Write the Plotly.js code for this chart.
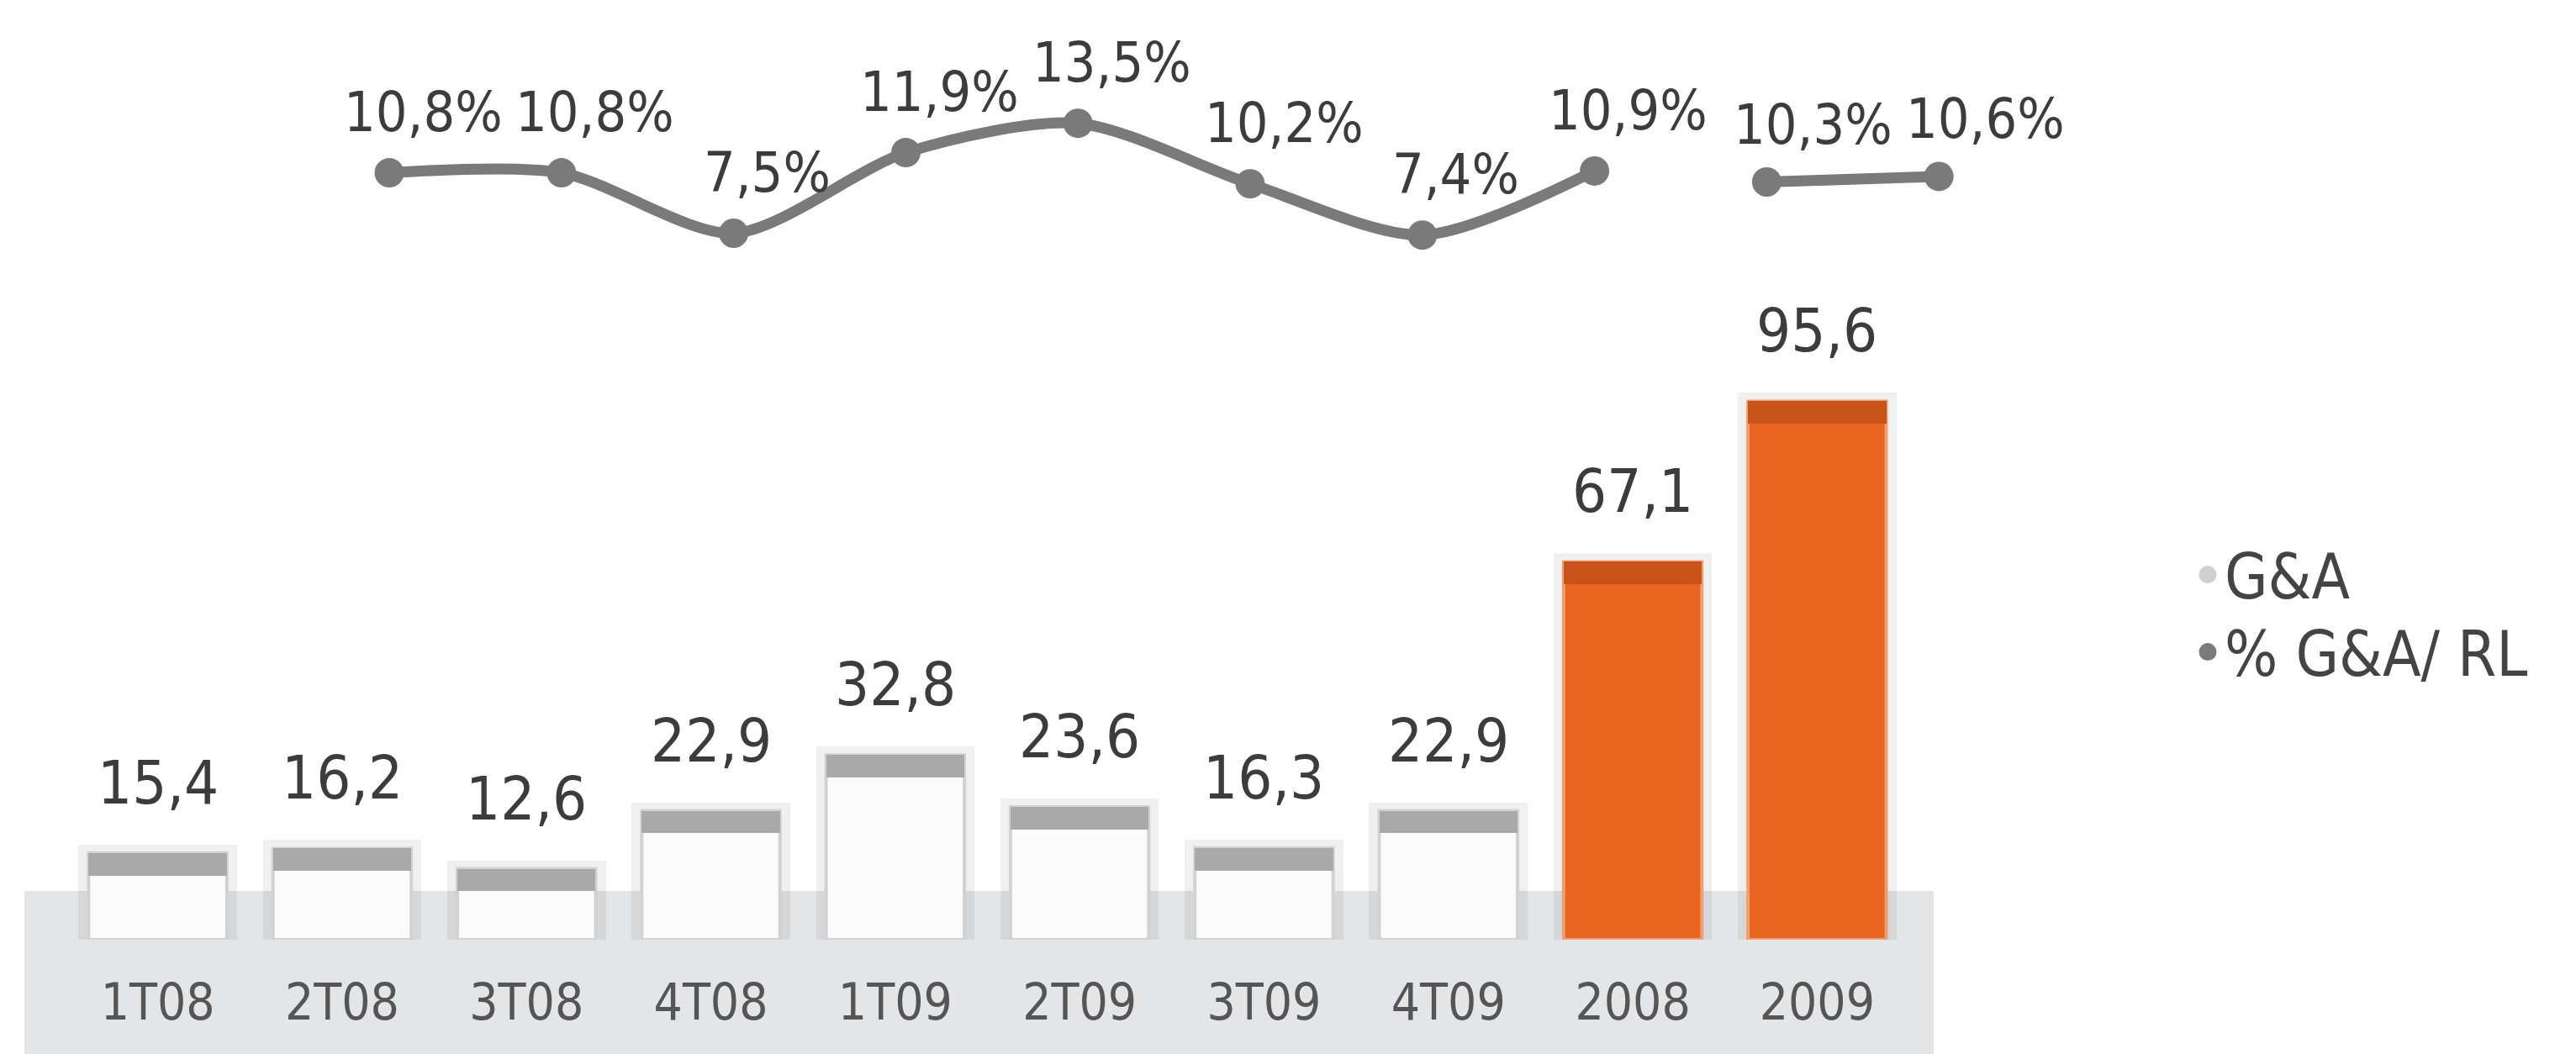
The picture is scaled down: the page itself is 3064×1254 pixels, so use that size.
<!DOCTYPE html>
<html>
<head>
<meta charset="utf-8">
<script src="https://cdn.plot.ly/plotly-3.0.1.min.js"></script>
<style>
  html, body { margin: 0; padding: 0; background: #ffffff; }
  #chart { width: 3064px; height: 1254px; }
</style>
</head>
<body>
<div id="chart"></div>
<script>
// ---- data ----
const categories = ['1T08', '2T08', '3T08', '4T08', '1T09', '2T09', '3T09', '4T09', '2008', '2009'];
const gaValues = [15.4, 16.2, 12.6, 22.9, 32.8, 23.6, 16.3, 22.9, 67.1, 95.6];
const quarterCats = ['1T08', '2T08', '3T08', '4T08', '1T09', '2T09', '3T09', '4T09'];
const pctQuarter = [10.8, 10.8, 7.5, 11.9, 13.5, 10.2, 7.4, 10.9];
const annualCats = ['2008', '2009'];
const pctAnnual = [10.3, 10.6];
const legendNames = ['G&A', '% G&A/ RL'];

// ---- styling ----
const FONT = '"Liberation Sans Narrow", "Arial Narrow", "DejaVu Sans Condensed", sans-serif';
const TEXT_COLOR = '#3c3c3c';
const LINE_COLOR = '#7a7a7a';
const isAnnual = categories.map(c => annualCats.indexOf(c) >= 0);
const bodyColors = isAnnual.map(a => a ? '#E8641F' : '#fbfbfb');
const bodyLines = isAnnual.map(a => a ? '#f0a070' : '#d2d2d2');
const capColors = isAnnual.map(a => a ? '#c9521a' : '#a9a9a9');
const CAP = 4; // cap thickness in data units
const fmt = v => v.toFixed(1).replace('.', ',');

const W = 3064, PLOT_BOTTOM = 1118;
const px2x = p => p / W;
const py2y = p => (PLOT_BOTTOM - p) / PLOT_BOTTOM;

const traces = [
  // soft shadow behind bars
  {
    type: 'bar', x: categories, y: gaValues.map(v => v + 1.5),
    width: 0.86, marker: { color: 'rgba(0,0,0,0.06)' },
    hoverinfo: 'skip', showlegend: false, xaxis: 'x', yaxis: 'y'
  },
  {
    type: 'bar', x: categories, y: gaValues, name: legendNames[0],
    width: 0.75,
    marker: { color: bodyColors, line: { color: bodyLines, width: 4 } },
    showlegend: false, xaxis: 'x', yaxis: 'y'
  },
  {
    type: 'bar', x: categories, y: gaValues.map(() => CAP), base: gaValues.map(v => v - CAP),
    width: 0.75, marker: { color: capColors },
    hoverinfo: 'skip', showlegend: false, xaxis: 'x', yaxis: 'y'
  },
  {
    type: 'scatter', mode: 'lines+markers', x: quarterCats, y: pctQuarter,
    name: legendNames[1],
    line: { color: LINE_COLOR, width: 13, shape: 'spline', smoothing: 0.8 },
    marker: { color: LINE_COLOR, size: 35 },
    cliponaxis: false, showlegend: false, xaxis: 'x2', yaxis: 'y2'
  },
  {
    type: 'scatter', mode: 'lines+markers', x: annualCats, y: pctAnnual,
    name: legendNames[1],
    line: { color: LINE_COLOR, width: 13 },
    marker: { color: LINE_COLOR, size: 35 },
    cliponaxis: false, showlegend: false, xaxis: 'x2', yaxis: 'y2'
  },
  // legend entries (circle markers only), each in its own legend box
  {
    type: 'scatter', mode: 'markers', x: [null], y: [null], name: legendNames[0],
    marker: { color: '#cfcfcf', size: 16, line: { color: '#cfcfcf', width: 5 } },
    xaxis: 'x', yaxis: 'y', showlegend: true, legend: 'legend'
  },
  {
    type: 'scatter', mode: 'markers', x: [null], y: [null], name: legendNames[1],
    marker: { color: LINE_COLOR, size: 16, line: { color: LINE_COLOR, width: 5 } },
    xaxis: 'x', yaxis: 'y', showlegend: true, legend: 'legend2'
  }
];

const annotations = [];
categories.forEach((c, i) => {
  annotations.push({
    xref: 'x', yref: 'y', x: i, y: gaValues[i], text: fmt(gaValues[i]),
    showarrow: false, yanchor: 'middle', yshift: 84,
    font: { family: FONT, size: 72, color: TEXT_COLOR }
  });
});
quarterCats.forEach((c, i) => {
  annotations.push({
    xref: 'x2', yref: 'y2', x: categories.indexOf(c), y: pctQuarter[i], text: fmt(pctQuarter[i]) + '%',
    showarrow: false, yanchor: 'middle', xshift: 40, yshift: 72,
    font: { family: FONT, size: 66, color: TEXT_COLOR }
  });
});
annualCats.forEach((c, i) => {
  annotations.push({
    xref: 'x2', yref: 'y2', x: categories.indexOf(c), y: pctAnnual[i], text: fmt(pctAnnual[i]) + '%',
    showarrow: false, yanchor: 'middle', xshift: 55, yshift: 68,
    font: { family: FONT, size: 66, color: TEXT_COLOR }
  });
});

const legendCommon = {
  x: px2x(2606), xanchor: 'left', yanchor: 'middle',
  font: { family: FONT, size: 74, color: '#444444' },
  bgcolor: 'rgba(0,0,0,0)', borderwidth: 0, itemsizing: 'trace'
};

const layout = {
  width: W, height: 1254,
  margin: { l: 0, r: 0, t: 0, b: 1254 - PLOT_BOTTOM, pad: 0 },
  paper_bgcolor: '#ffffff', plot_bgcolor: 'rgba(0,0,0,0)',
  barmode: 'overlay', bargap: 0,
  font: { family: FONT, color: TEXT_COLOR },
  xaxis: {
    domain: [px2x(78), px2x(2271)], type: 'category', range: [-0.5, 9.5],
    categoryorder: 'array', categoryarray: categories,
    showgrid: false, zeroline: false, showline: false, ticks: '',
    ticklabelstandoff: 34,
    tickfont: { family: FONT, size: 60, color: '#555555' },
    fixedrange: true
  },
  yaxis: { domain: [0, 1], range: [0, PLOT_BOTTOM / 6.7], visible: false, fixedrange: true },
  xaxis2: {
    domain: [px2x(360.6), px2x(2408.6)], type: 'category', range: [-0.5, 9.5],
    categoryorder: 'array', categoryarray: categories,
    anchor: 'y2', visible: false, fixedrange: true
  },
  yaxis2: { domain: [0, 1], range: [(441 - PLOT_BOTTOM) / 21.8, 441 / 21.8], anchor: 'x2', visible: false, fixedrange: true },
  shapes: [{
    type: 'rect', xref: 'paper', yref: 'paper', layer: 'below',
    x0: px2x(29), x1: px2x(2300), y0: py2y(1060), y1: -0.2,
    fillcolor: '#e4e5e7', line: { width: 0 }
  }],
  annotations: annotations,
  showlegend: true,
  legend: Object.assign({}, legendCommon, { y: py2y(684) }),
  legend2: Object.assign({}, legendCommon, { y: py2y(776) })
};

Plotly.newPlot('chart', traces, layout, { staticPlot: true, displayModeBar: false });
</script>
</body>
</html>
